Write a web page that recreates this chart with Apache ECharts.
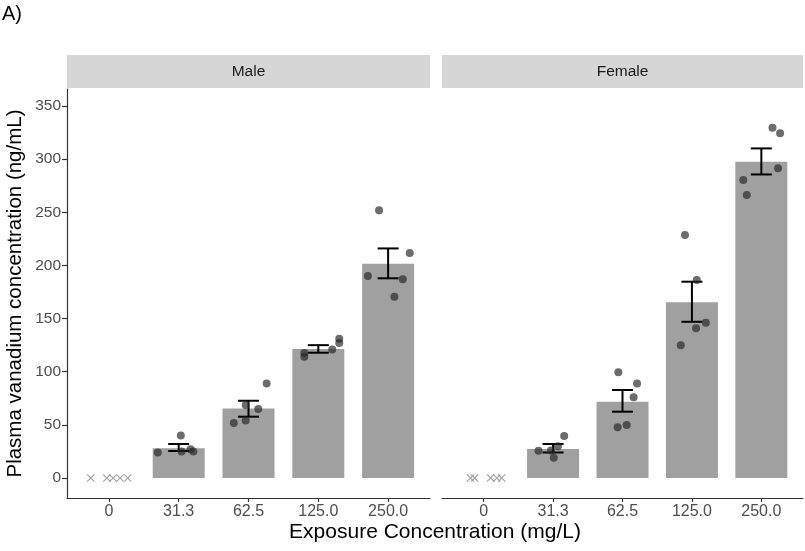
<!DOCTYPE html>
<html>
<head>
<meta charset="utf-8">
<script src="https://cdn.jsdelivr.net/npm/echarts@6/dist/echarts.min.js"></script>
<style>
html,body{margin:0;padding:0;background:#fff;}
#main{width:805px;height:551px;}
</style>
</head>
<body>
<div id="main"></div>
<script>
// ---- data ----
var categories = ['0', '31.3', '62.5', '125.0', '250.0'];
var panels = ['Male', 'Female'];
var yTicks = [0, 50, 100, 150, 200, 250, 300, 350];

var maleMean   = [0, 28.0, 65.5, 121.4, 201.6];
var maleSeLow  = [null, 25.4, 57.7, 117.9, 187.9];
var maleSeHigh = [null, 32.0, 72.7, 125.0, 216.0];
var femaleMean   = [0, 27.3, 71.8, 165.3, 297.6];
var femaleSeLow  = [null, 24.0, 62.4, 147.0, 285.6];
var femaleSeHigh = [null, 32.0, 82.8, 184.7, 310.1];

// individual animals (5 per group), values and horizontal jitter (in category units)
var malePoints = [
  [0, 0, 0, 0, 0],
  [24, 40, 25, 27, 25],
  [51.7, 54, 68.7, 65, 89],
  [114, 117.6, 121, 127, 131],
  [252, 211.6, 190, 187, 170.6]
];
var maleJitter = [
  [-0.26, -0.03, 0.06, 0.16, 0.27],
  [-0.30, 0.03, 0.04, 0.17, 0.21],
  [-0.21, -0.04, -0.04, 0.14, 0.26],
  [-0.20, -0.20, 0.20, 0.30, 0.30],
  [-0.13, 0.31, -0.29, 0.21, 0.09]
];
var femalePoints = [
  [0, 0, 0, 0, 0],
  [25.7, 26, 19, 30, 39.5],
  [99.4, 89, 75.9, 47.7, 49.9],
  [228.6, 186.3, 146, 140.8, 125],
  [329.6, 324.3, 291.4, 280.3, 266.2]
];
var femaleJitter = [
  [-0.19, -0.13, 0.10, 0.19, 0.26],
  [-0.21, -0.03, 0.01, 0.07, 0.16],
  [-0.06, 0.21, 0.16, -0.07, 0.06],
  [-0.10, 0.07, 0.20, 0.06, -0.16],
  [0.16, 0.27, 0.24, -0.26, -0.21]
];

// ---- build ----
var chart = echarts.init(document.getElementById('main'), null, {renderer: 'canvas'});
var FONT = '"Liberation Sans", Arial, sans-serif';
var XMIN = -0.6, XMAX = 4.6, YMIN = -18.8, YMAX = 366;
var crossPath = 'path://M0,1L1,0L5,4L9,0L10,1L6,5L10,9L9,10L5,6L1,10L0,9L4,5Z';

function barData(mean) {
  var d = [];
  for (var i = 1; i < mean.length; i++) d.push([i, mean[i]]);
  return d;
}
function errData(lo, hi) {
  var d = [];
  for (var i = 0; i < lo.length; i++) if (lo[i] != null) d.push([i, lo[i], hi[i]]);
  return d;
}
function ptData(pts, jit, zero) {
  var d = [];
  for (var i = 0; i < pts.length; i++) {
    for (var k = 0; k < pts[i].length; k++) {
      var isZero = pts[i][k] === 0;
      if (isZero === zero) d.push([i + jit[i][k], pts[i][k]]);
    }
  }
  return d;
}
function renderErr(params, api) {
  var x = api.value(0);
  var lo = api.coord([x, api.value(1)]);
  var hi = api.coord([x, api.value(2)]);
  var hw = 10.5;
  var st = {stroke: '#000', lineWidth: 2};
  return {
    type: 'group',
    children: [
      {type: 'line', shape: {x1: lo[0], y1: lo[1], x2: hi[0], y2: hi[1]}, style: st},
      {type: 'line', shape: {x1: lo[0] - hw, y1: lo[1], x2: lo[0] + hw, y2: lo[1]}, style: st},
      {type: 'line', shape: {x1: hi[0] - hw, y1: hi[1], x2: hi[0] + hw, y2: hi[1]}, style: st}
    ]
  };
}

var grids = [
  {left: 67, top: 89, width: 363, height: 409},
  {left: 442, top: 89, width: 361, height: 409}
];

function xAxisFor(idx) {
  return {
    type: 'value', gridIndex: idx, min: XMIN, max: XMAX,
    splitLine: {show: false},
    axisLine: {show: true, onZero: false, lineStyle: {color: '#333', width: 1.2}},
    axisTick: {show: true, length: 4, customValues: [0, 1, 2, 3, 4], lineStyle: {color: '#333', width: 1.2}},
    axisLabel: {
      show: true, customValues: [0, 1, 2, 3, 4], margin: 6,
      color: '#4d4d4d', fontSize: 16, fontFamily: FONT,
      formatter: function (v) { return categories[Math.round(v)]; }
    }
  };
}
function yAxisFor(idx) {
  var first = idx === 0;
  return {
    type: 'value', gridIndex: idx, min: YMIN, max: YMAX,
    splitLine: {show: false},
    axisLine: {show: first, onZero: false, lineStyle: {color: '#333', width: 1.2}},
    axisTick: {show: first, length: 5, customValues: yTicks, lineStyle: {color: '#333', width: 1.2}},
    axisLabel: {show: first, customValues: yTicks, margin: 6, color: '#4d4d4d', fontSize: 15.5, fontFamily: FONT},
    name: first ? 'Plasma vanadium concentration (ng/mL)' : '',
    nameLocation: 'middle', nameGap: 41,
    nameTextStyle: {color: '#000', fontSize: 20.5, fontFamily: FONT}
  };
}

var sets = [
  {mean: maleMean, lo: maleSeLow, hi: maleSeHigh, pts: malePoints, jit: maleJitter},
  {mean: femaleMean, lo: femaleSeLow, hi: femaleSeHigh, pts: femalePoints, jit: femaleJitter}
];
var series = [];
sets.forEach(function (s, idx) {
  series.push({
    type: 'bar', xAxisIndex: idx, yAxisIndex: idx, data: barData(s.mean),
    barWidth: 52, itemStyle: {color: '#a0a0a0'}, silent: true, z: 1
  });
  series.push({
    type: 'custom', xAxisIndex: idx, yAxisIndex: idx, data: errData(s.lo, s.hi),
    renderItem: renderErr, z: 3, silent: true
  });
  series.push({
    type: 'scatter', xAxisIndex: idx, yAxisIndex: idx, data: ptData(s.pts, s.jit, false),
    symbol: 'circle', symbolSize: 8, itemStyle: {color: 'rgba(40,40,40,0.85)'}, z: 4, silent: true
  });
  series.push({
    type: 'scatter', xAxisIndex: idx, yAxisIndex: idx, data: ptData(s.pts, s.jit, true),
    symbol: crossPath, symbolSize: 8, itemStyle: {color: '#8a8a8a'}, z: 4, silent: true
  });
});

var option = {
  animation: false,
  backgroundColor: '#fff',
  grid: grids,
  xAxis: [xAxisFor(0), xAxisFor(1)],
  yAxis: [yAxisFor(0), yAxisFor(1)],
  series: series,
  graphic: [
    {type: 'text', left: 2, top: 4, style: {text: 'A)', fontSize: 20, fontFamily: FONT, fill: '#000'}},
    {type: 'rect', shape: {x: 67, y: 55, width: 363, height: 33}, style: {fill: '#d6d6d6'}},
    {type: 'rect', shape: {x: 442, y: 55, width: 361, height: 33}, style: {fill: '#d6d6d6'}},
    {type: 'text', x: 248.5, y: 72, style: {text: panels[0], fontSize: 15.5, fontFamily: FONT, fill: '#1a1a1a', align: 'center', verticalAlign: 'middle'}},
    {type: 'text', x: 622.5, y: 72, style: {text: panels[1], fontSize: 15.5, fontFamily: FONT, fill: '#1a1a1a', align: 'center', verticalAlign: 'middle'}},
    {type: 'text', x: 435, y: 532, style: {text: 'Exposure Concentration (mg/L)', fontSize: 21, fontFamily: FONT, fill: '#000', align: 'center', verticalAlign: 'middle'}}
  ]
};
chart.setOption(option);
</script>
</body>
</html>
